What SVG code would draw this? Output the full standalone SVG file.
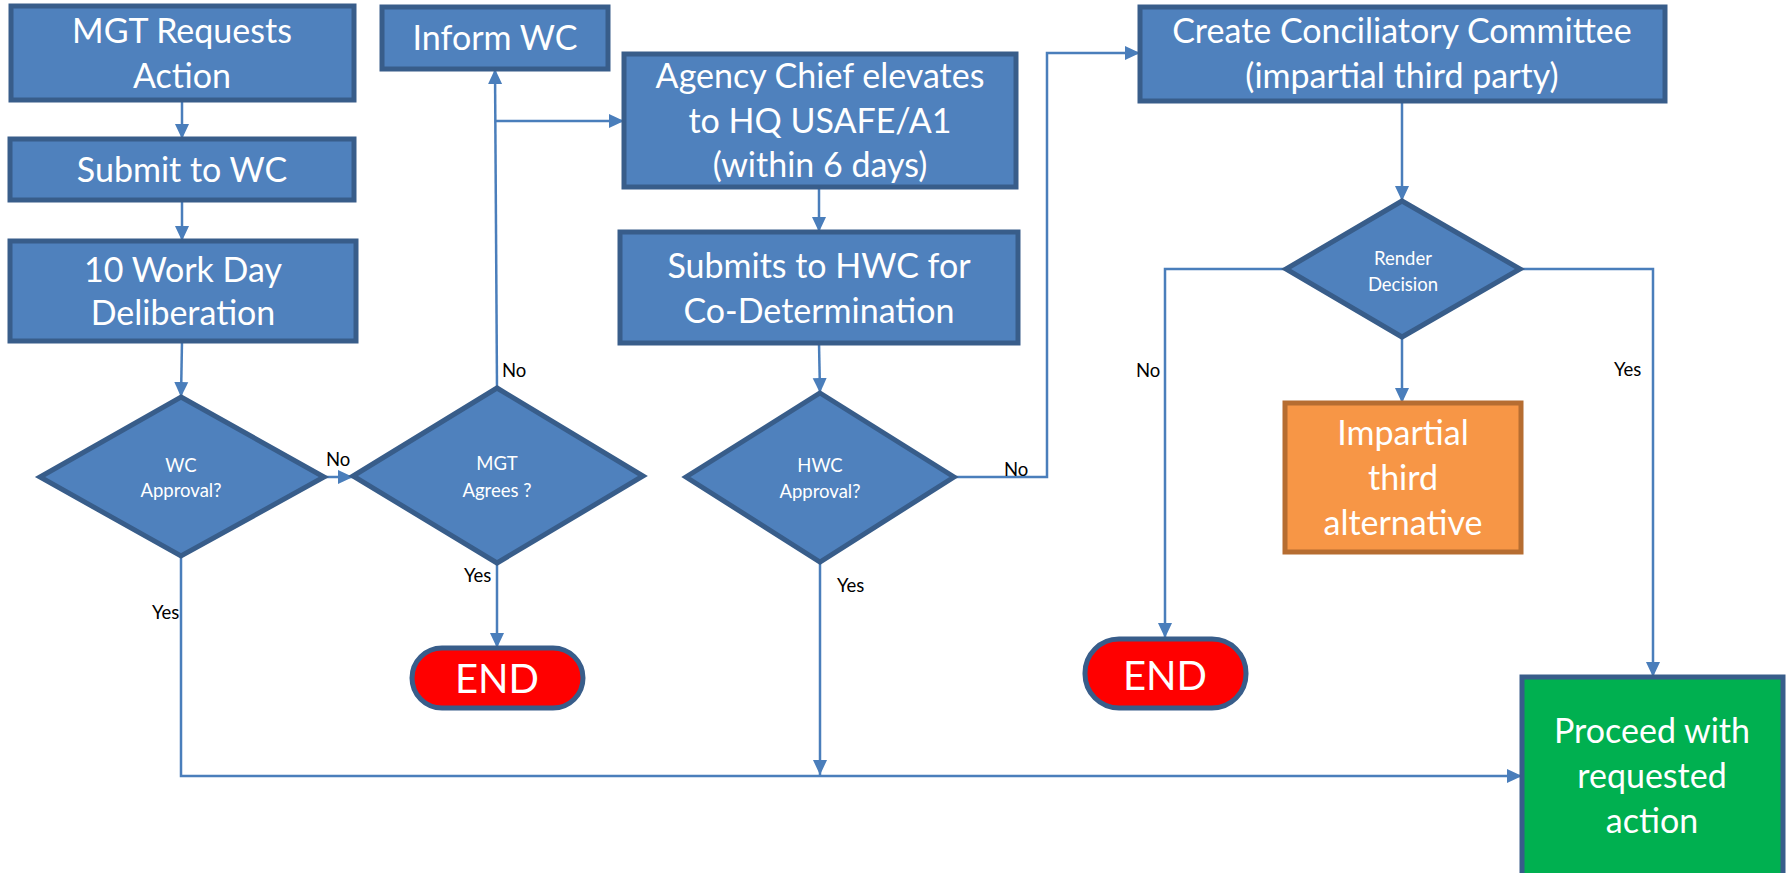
<svg xmlns="http://www.w3.org/2000/svg" width="1788" height="873" viewBox="0 0 1788 873">
<defs>
<style>
.box{fill:#4F81BD;stroke:#385D8A;stroke-width:5}
.end{fill:#FF0000;stroke:#385D8A;stroke-width:5}
.orange{fill:#F79646;stroke:#B66D31;stroke-width:5}
.green{fill:#00B050;stroke:#385D8A;stroke-width:5}
.t{font-family:Lato,"Liberation Sans",sans-serif;fill:#FFFFFF;text-anchor:middle;font-size:34px}
.s{font-family:Lato,"Liberation Sans",sans-serif;fill:#FFFFFF;text-anchor:middle;font-size:18.5px}
.e{font-family:Lato,"Liberation Sans",sans-serif;fill:#FFFFFF;text-anchor:middle;font-size:40px}
.l{font-family:Lato,"Liberation Sans",sans-serif;fill:#000000;font-size:18.5px}
.c{fill:none;stroke:#4A7EBB;stroke-width:2.5}
</style>
<marker id="arr" markerUnits="userSpaceOnUse" markerWidth="16" markerHeight="16" viewBox="0 0 16 16" refX="15" refY="8" orient="auto">
<path d="M0,1 L15,8 L0,15 Z" fill="#4A7EBB"/>
</marker>
</defs>
<rect width="1788" height="873" fill="#FFFFFF"/>
<g id="connectors">
<path class="c" d="M182,100 L182,139" marker-end="url(#arr)"/>
<path class="c" d="M182,200 L182,241" marker-end="url(#arr)"/>
<path class="c" d="M182,341 L181,397" marker-end="url(#arr)"/>
<path class="c" d="M324,477 L353,477" marker-end="url(#arr)"/>
<path class="c" d="M497,388 L495,69" marker-end="url(#arr)"/>
<path class="c" d="M496,121 L624,121" marker-end="url(#arr)"/>
<path class="c" d="M819,187 L819,232" marker-end="url(#arr)"/>
<path class="c" d="M819,343 L820,393" marker-end="url(#arr)"/>
<path class="c" d="M954,477 L1047,477 L1047,53 L1140,53" marker-end="url(#arr)"/>
<path class="c" d="M1402,101 L1402,201" marker-end="url(#arr)"/>
<path class="c" d="M1286,269 L1165,269 L1165,638" marker-end="url(#arr)"/>
<path class="c" d="M1402,337 L1402,403" marker-end="url(#arr)"/>
<path class="c" d="M1520,269 L1653,269 L1653,677" marker-end="url(#arr)"/>
<path class="c" d="M497,563 L497,648" marker-end="url(#arr)"/>
<path class="c" d="M181,556 L181,776 L1522,776" marker-end="url(#arr)"/>
<path class="c" d="M820,562 L820,775" marker-end="url(#arr)"/>
<text class="l" x="326" y="466">No</text>
<text class="l" x="502" y="377">No</text>
<text class="l" x="464" y="582">Yes</text>
<text class="l" x="152" y="619">Yes</text>
<text class="l" x="1004" y="476">No</text>
<text class="l" x="837" y="592">Yes</text>
<text class="l" x="1136" y="377">No</text>
<text class="l" x="1614" y="376">Yes</text>
</g>
<g id="mgt-requests">
<rect class="box" x="11" y="6" width="343" height="94"/>
<text class="t" x="182" y="43">MGT Requests</text>
<text class="t" x="182" y="88">Action</text>
</g>
<g id="submit-wc">
<rect class="box" x="10" y="139" width="344" height="61"/>
<text class="t" x="182" y="182">Submit to WC</text>
</g>
<g id="deliberation">
<rect class="box" x="10" y="241" width="346" height="100"/>
<text class="t" x="183" y="282">10 Work Day</text>
<text class="t" x="183" y="325">Deliberation</text>
</g>
<g id="wc-approval">
<polygon class="box" points="181,397 324,477 181,556 40,477"/>
<text class="s" x="181" y="472">WC</text>
<text class="s" x="181" y="497">Approval?</text>
</g>
<g id="mgt-agrees">
<polygon class="box" points="497,388 643,476 497,563 353,476"/>
<text class="s" x="497" y="470">MGT</text>
<text class="s" x="497" y="497">Agrees ?</text>
</g>
<g id="inform-wc">
<rect class="box" x="382" y="7" width="226" height="62"/>
<text class="t" x="495" y="50">Inform WC</text>
</g>
<g id="end-1">
<rect class="end" x="412" y="648" width="171" height="60" rx="30"/>
<text class="e" x="497" y="693">END</text>
</g>
<g id="agency-chief">
<rect class="box" x="624" y="54" width="392" height="133"/>
<text class="t" x="820" y="88">Agency Chief elevates</text>
<text class="t" x="820" y="133">to HQ USAFE/A1</text>
<text class="t" x="820" y="177">(within 6 days)</text>
</g>
<g id="submits-hwc">
<rect class="box" x="620" y="232" width="398" height="111"/>
<text class="t" x="819" y="278">Submits to HWC for</text>
<text class="t" x="819" y="323">Co-Determination</text>
</g>
<g id="hwc-approval">
<polygon class="box" points="820,393 954,477 820,562 686,477"/>
<text class="s" x="820" y="472">HWC</text>
<text class="s" x="820" y="498">Approval?</text>
</g>
<g id="conciliatory">
<rect class="box" x="1140" y="7" width="525" height="94"/>
<text class="t" x="1402" y="43">Create Conciliatory Committee</text>
<text class="t" x="1402" y="88">(impartial third party)</text>
</g>
<g id="render-decision">
<polygon class="box" points="1402,201 1520,269 1402,337 1286,269"/>
<text class="s" x="1403" y="265">Render</text>
<text class="s" x="1403" y="291">Decision</text>
</g>
<g id="impartial">
<rect class="orange" x="1285" y="403" width="236" height="149"/>
<text class="t" x="1403" y="445">Impartial</text>
<text class="t" x="1403" y="490">third</text>
<text class="t" x="1403" y="535">alternative</text>
</g>
<g id="end-2">
<rect class="end" x="1085" y="639" width="161" height="69" rx="34"/>
<text class="e" x="1165" y="690">END</text>
</g>
<g id="proceed">
<rect class="green" x="1522" y="677" width="261" height="210"/>
<text class="t" x="1652" y="743">Proceed with</text>
<text class="t" x="1652" y="788">requested</text>
<text class="t" x="1652" y="833">action</text>
</g>
</svg>
